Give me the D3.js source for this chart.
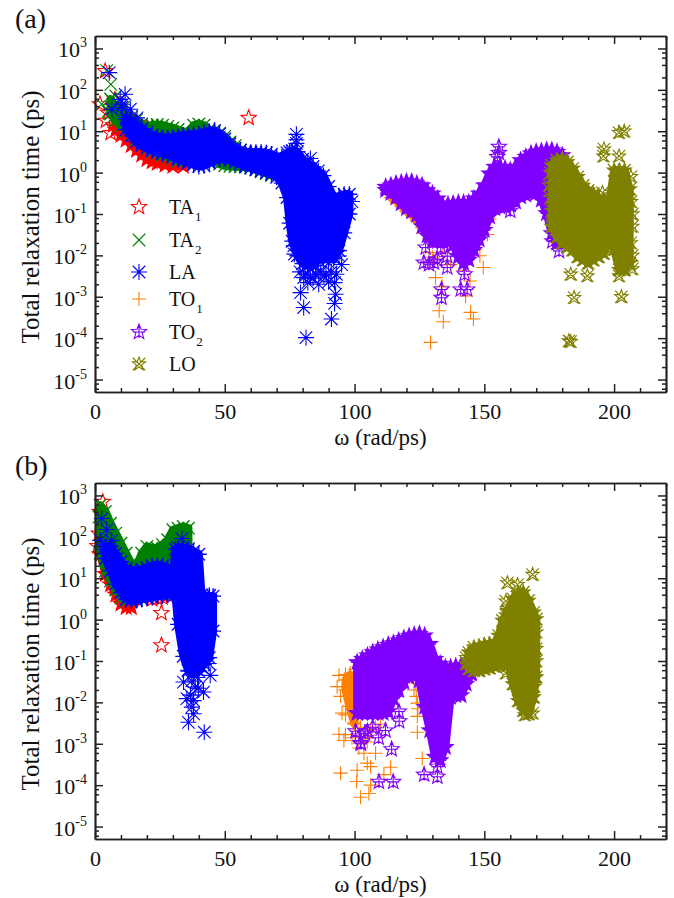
<!DOCTYPE html>
<html>
<head>
<meta charset="utf-8">
<script src="https://d3js.org/d3.v7.min.js"></script>
<style>
  html, body { margin: 0; padding: 0; background: #fff; }
  svg { display: block; }
  text { font-family: "Liberation Serif", serif; fill: #111; }
</style>
</head>
<body>
<div id="chart"></div>
<script>
// rows of a solid region are [omega, lowest tau, highest tau], null marks a gap
// *Pts are the single points that stick out of the region

// panel (a)
const aTa1Band = [[8,10.8,30],[10,8.1,25],[12,6.2,22],[14,4.6,20],[16,3.5,16],[18,2.7,13],[20,2.1,12],[22,1.85,12],[24,1.7,12],[27,1.55,10],[30,1.45,8],[34,1.45,5]]
const aTa1Pts = [[3.9,284],[1.9,45],[4.2,18],[5,28],[7.7,59],[9,30],[7,14],[10,18],[6,9],[8.5,13],[11,11],[59.2,21]]
const aTa2Band = [[6,26,60],[8,18,40],[10,13,30],[12,10.5,26],[14,8,22],[16,6.2,19],[18,4.6,15],[20,3.7,13],[22,3.2,14],[24,2.9,14.5],[26,2.6,14],[28,2.4,13],[30,2.2,12],[32,1.9,11],[34,1.8,10],[36,1.8,9],[38,1.8,14],[40,1.8,15],[42,1.8,14],[44,1.8,11],[46,1.85,10],[48,1.6,9],[50,1.46,7.5],[52,1.42,5.5],[54,1.4,4.5],[56,1.38,3.5],[58,1.35,3],[60,1.3,2.8],[62,1.16,2.6],[64,1.05,2.3],[66,0.95,2],[68,0.85,1.5]]
const aTa2Pts = [[2.6,45],[4.5,290],[6.1,135],[8,71],[5,30],[9,45],[11,38],[7,22]]
const aLaBand = [[12,11,20],[14,7.7,17],[16,5.6,14],[18,4.5,11.5],[20,3.9,9.5],[22,3.4,8],[24,3.1,7.5],[26,2.9,7],[28,2.7,7],[30,2.4,7.2],[32,2.1,7.5],[34,1.9,8],[36,1.7,8],[38,1.55,8.5],[40,1.4,8.5],[42,1.47,9.5],[44,1.7,10],[46,2,10.5],[48,2.1,8.5],[50,2.2,6.5],[52,2,5],[54,1.75,3.9],[56,1.6,3.5],[58,1.4,3.2],[60,1.3,3.1],[62,1.2,3.1],[64,1.1,3.1],[66,1,3],[68,0.92,2.8],[70,0.77,2.4],[72,0.56,2.4],[74,0.25,3],[75,0.06,3.2],[76,0.022,3.4],[78,0.0098,3.2],[80,0.0063,2.1],[82,0.0056,1.7],[84,0.0056,1.4],[86,0.0077,1.1],[88,0.0084,0.85],[90,0.0084,0.46],[92,0.0084,0.25],[94,0.013,0.27],[96,0.035,0.3],[98,0.1,0.3]]
const aLaPts = [[5.5,260],[11.6,78],[9.7,59],[10.3,38],[6.5,34],[13.6,34],[16.2,21],[12,23],[10.7,45],[77.6,8.4],[77.6,6.2],[77.6,5.1],[83,2.2],[79.2,0.00126],[80.4,0.00055],[81.3,0.000103],[86.2,0.002],[92.3,0.0022],[92.7,0.00115],[92.3,0.00069],[91.1,0.00029],[76.6,0.017],[76.8,0.0107],[94,0.0097],[90,0.0067],[85,0.0056],[80.4,0.0029],[88.2,0.0032],[79,0.004],[81,0.0035],[83,0.003],[85,0.0035],[87,0.004],[89,0.0035],[91,0.004],[93,0.0035],[95,0.006],[82,0.0022],[84,0.0028],[90,0.0023],[99,0.2]]
const aTo1Band = [[114,0.25,0.3],[116,0.21,0.3],[118,0.157,0.3],[120,0.118,0.3],[122,0.095,0.3],[124,0.068,0.3],[126,0.047,0.3],[137,null,null],[148,0.03,0.2],[150,0.047,0.2],[152,0.075,0.2]]
const aTo1Pts = [[129.3,0.000079],[132.6,0.00046],[134.2,0.00025],[144.7,0.00042],[145.8,0.00029],[149.6,0.0051],[148.3,0.0098],[142.8,0.00105],[144.5,0.0024],[131.2,0.0029],[128.7,0.0117],[133.8,0.0018],[142,0.0043],[134,0.0117],[151.2,0.032],[126.5,0.035],[130,0.009],[137,0.006],[146.5,0.014]]
const aTo2Band = [[112,0.38,0.45],[114,0.32,0.49],[116,0.25,0.54],[118,0.18,0.57],[120,0.137,0.6],[122,0.114,0.6],[124,0.095,0.54],[126,0.05,0.49],[128,0.03,0.37],[130,0.022,0.31],[132,0.022,0.235],[134,0.022,0.163],[136,0.022,0.169],[138,0.018,0.178],[140,0.0093,0.185],[142,0.0065,0.185],[144,0.0078,0.188],[146,0.0135,0.235],[148,0.024,0.31],[150,0.041,0.49],[152,0.087,0.95],[154,0.137,1.37],[156,0.15,1.37],[158,0.15,1.25],[160,0.166,1.14],[162,0.2,1.37],[164,0.263,1.99],[166,0.29,2.39],[168,0.32,2.88],[170,0.32,3.16],[172,0.22,3.27],[174,0.104,3.46],[176,0.034,3.46],[178,0.02,3.16],[180,0.02,2.62]]
const aTo2Pts = [[155.6,4.2],[155.6,3],[155,2.4],[128.7,0.0061],[135.7,0.0051],[131.9,0.0081],[133.5,0.0015],[133.5,0.00095],[140.9,0.0015],[143.4,0.0015],[142.4,0.0035],[176.2,0.022],[178.8,0.0128],[160,0.12],[127.4,0.0155],[133.2,0.0155],[135.7,0.0096],[130.6,0.0067],[126.7,0.0067]]
const aLoBand = [[176,0.05,1.5],[178,0.028,1.99],[180,0.02,2.18],[182,0.016,1.81],[184,0.0135,1.25],[186,0.0093,0.79],[188,0.0078,0.49],[190,0.0065,0.37],[192,0.0078,0.31],[194,0.0093,0.235],[196,0.0112,0.215],[198,0.024,0.163],[200,0.014,1.14],[202,0.0045,1.14],[204,0.0045,1.14],[206,0.0065,0.4]]
const aLoPts = [[201.9,9.3],[203.9,10],[195.9,2.5],[196.1,3.7],[201.9,2.5],[183.3,0.0035],[189.7,0.0032],[184.6,0.00095],[202.8,0.001],[182.6,0.000086],[183.2,0.000082],[195.5,0.33],[201.9,0.0032],[207,0.0047],[206.4,0.02],[207,0.05],[207,0.1],[207,0.01],[175.5,1],[175,0.5],[175.5,0.25],[176,0.12],[176.5,0.07],[206.5,0.8],[206.5,0.2]]

// panel (b)
const bTa1Band = [[2,38,400],[4,12.6,150],[6,7,60],[8,4,25],[10,2.4,12],[12,2,8],[14,2,5]]
const bTa1Pts = [[25.6,1.45],[25.6,0.24],[22,3.1],[24,3.3],[26,3.4],[28,3.9],[30,4.1],[1.5,120],[3,300],[1,60],[3,700]]
const bTa2Band = [[2,40,590],[4,15,410],[6,8.6,214],[8,5.2,123],[10,3.3,70],[12,2.8,40],[14,2.8,23],[16,3.1,19],[18,3.4,40],[20,3.5,59],[22,4,54],[24,4.5,54],[26,4.9,65],[28,4.5,85],[30,4,148],[32,4.5,162],[34,4.5,178],[36,4.5,162]]
const bTa2Pts = [[1.5,300],[3.5,90],[5.5,45]]
const bLaBand = [[4,30,60],[6,15,59],[8,7.2,40],[10,4.5,25],[12,3.1,17],[14,2.8,16],[16,2.9,14.5],[18,3.1,16.5],[20,3.3,18],[22,3.4,20],[24,3.7,21],[26,3.7,20],[28,3.95,18],[30,4.5,12],[31,4,50],[32,0.77,55],[34,0.13,55],[36,0.057,52],[38,0.048,45],[40,0.057,38],[41,0.07,4],[42,0.083,3.7],[44,0.12,3.7],[45.5,0.53,3.7]]
const bLaPts = [[36,0.0033],[42.1,0.0019],[38,0.0053],[37.3,0.0077],[35.4,0.0123],[41.8,0.0178],[38.6,0.0235],[34.1,0.031],[44.4,0.045],[37.3,0.033],[44.1,3.9],[33.5,91],[35.8,0.06],[39.5,0.04],[43.8,0.087],[2.6,277],[6.4,82],[4.5,150],[2,82],[5.5,40],[3,50],[36.8,0.015],[38,0.011],[39.8,0.022]]
const bTo1Band = [[96.5,0.02,0.035],[98,0.008,0.045],[100,0.003,0.045]]
const bTo1Pts = [[96.5,0.047],[95.9,0.024],[97.8,0.035],[98.5,0.051],[97.2,0.014],[97.8,0.008],[96.5,0.005],[99.1,0.014],[99.7,0.0032],[96.5,0.00166],[99,0.0014],[101.7,0.00079],[108.1,0.00059],[104.9,0.00034],[106.2,0.00028],[94.6,0.000195],[101,0.00023],[100.8,0.000123],[113.9,0.00027],[111.3,0.00018],[105.5,0.000063],[102.3,0.000051],[106.2,0.0001],[103.6,0.00059],[123.6,0.029],[122.9,0.02],[124.2,0.0096],[124.2,0.0046],[124.2,0.0019],[126.1,0.00044],[106.2,0.0022],[104.2,0.00138],[123.8,0.014],[124.4,0.007],[94,0.045],[93.3,0.024],[94.6,0.014],[95.2,0.0055],[94,0.0017],[95.9,0.0012],[103.6,0.0014],[104.9,0.0011],[108.1,0.0025],[102.3,0.0025],[110,0.003]]
const bTo2Band = [[101,0.0055,0.093],[103,0.0055,0.112],[105,0.0055,0.135],[107,0.0055,0.162],[109,0.0055,0.188],[111,0.0055,0.214],[113,0.006,0.244],[115,0.0123,0.272],[117,0.0195,0.31],[119,0.031,0.354],[121,0.041,0.395],[123,0.045,0.426],[125,0.034,0.45],[127,0.0077,0.41],[129,0.0021,0.257],[131,0.00048,0.112],[133,0.0004,0.085],[135,0.00083,0.07],[137,0.0135,0.07],[139,0.0148,0.074],[141,0.0148,0.077],[143,0.028,0.07],[145,0.049,0.053]]
const bTo2Pts = [[109.4,0.00012],[114.9,0.00012],[114.3,0.00074],[117.1,0.006],[117.2,0.0035],[126.8,0.00018],[131.9,0.00016],[131.9,0.00028],[102.3,0.00104],[101.7,0.0015],[105,0.002],[102.5,0.001],[109.3,0.0014],[111.9,0.0021],[100.4,0.002],[107,0.0025],[104,0.0018]]
const bLoBand = [[144,0.065,0.162],[146,0.059,0.214],[148,0.059,0.223],[150,0.065,0.245],[152,0.068,0.257],[154,0.074,0.272],[155.5,0.079,0.41],[157,0.083,0.95],[159,0.089,1.65],[161,0.028,3.16],[163,0.011,4.2],[165,0.0064,4.6],[167,0.0053,2.9],[169,0.0135,1.5],[170,0.041,1.04]]
const bLoPts = [[168.6,12.3],[165.6,0.005],[158.9,7.7],[162.8,7],[158.3,2.8],[158.3,1.3],[158.3,0.051],[168.6,0.0055],[169.2,0.024],[143,0.12],[143,0.085],[170,0.5],[170,0.2],[170,0.1]]

const xTicks = [0, 50, 100, 150, 200]
const yDecades = [3, 2, 1, 0, -1, -2, -3, -4, -5]
const legendNames = [["TA", "1"], ["TA", "2"], ["LA", ""], ["TO", "1"], ["TO", "2"], ["LO", ""]]

const W = 674, H = 898
const margin = {left: 95, top: 36}
const plotW = 571, plotH = 356
const markR = 8

// marker shapes, all open outlines
function starPath(r) {
    let p = ""
    for (let i = 0; i < 10; i++) {
        const a = -Math.PI / 2 + i * Math.PI / 5
        const q = i % 2 ? r * 0.42 : r
        p += (i ? "L" : "M") + (q * Math.cos(a)).toFixed(2) + "," + (q * Math.sin(a)).toFixed(2)
    }
    return p + "Z"
}
function crossPath(r) {
    const k = r * 0.78
    return `M${-k},${-k}L${k},${k}M${-k},${k}L${k},${-k}`
}
function plusPath(r) {
    return `M${-r},0L${r},0M0,${-r}L0,${r}`
}
const shapes = {
    ta1: starPath(markR),
    ta2: crossPath(markR),
    la: crossPath(markR) + plusPath(markR),
    to1: plusPath(markR - 1),
    to2: starPath(markR) + plusPath(markR - 2),
    lo: crossPath(markR) + starPath(markR - 1)
}
const colors = {ta1: "#ff0000", ta2: "#008000", la: "#0000ff", to1: "#ff8000", to2: "#8000ff", lo: "#808000"}
const order = ["ta1", "ta2", "la", "to1", "to2", "lo"]

const svg = d3.select("#chart").append("svg").attr("width", W).attr("height", H)

function drawPanel(offsetY, letter, bands, points, withLegend) {
    const g = svg.append("g").attr("transform", `translate(${margin.left},${offsetY})`)
    const x = d3.scaleLinear().domain([0, 220]).range([0, plotW])
    const y = d3.scaleLog().domain([5e-6, 2000]).range([plotH, 0])

    const area = d3.area()
        .defined(d => d[1] != null)
        .x(d => x(d[0]))
        .y0(d => y(d[1]))
        .y1(d => y(d[2]))

    order.forEach(k => {
        const s = g.append("g").attr("class", k)
        // the stroke closes the notches between the marks along the edge
        s.append("path")
            .attr("d", area(bands[k]))
            .attr("fill", colors[k])
            .attr("stroke", colors[k])
            .attr("stroke-width", 8)
            .attr("stroke-linejoin", "round")
        const rows = bands[k].filter(d => d[1] != null)
        // edge marks of a solid region are filled so the outline stays solid
        s.selectAll("path.edge")
            .data(rows.flatMap(d => [[d[0], d[1]], [d[0], d[2]]]))
            .join("path")
            .attr("class", "edge")
            .attr("transform", d => `translate(${x(d[0])},${y(d[1])})`)
            .attr("d", shapes[k])
            .attr("fill", colors[k])
            .attr("stroke", colors[k])
            .attr("stroke-width", 1.3)
        s.selectAll("path.mark")
            .data(points[k])
            .join("path")
            .attr("class", "mark")
            .attr("transform", d => `translate(${x(d[0])},${y(d[1])})`)
            .attr("d", shapes[k])
            .attr("fill", "none")
            .attr("stroke", colors[k])
            .attr("stroke-width", 1.1)
    })

    // y ticks, long at the decades and short at 2,4,6,8
    const major = yDecades.map(e => Math.pow(10, e))
    const minor = d3.range(-6, 4).flatMap(e => [2, 4, 6, 8].map(m => m * Math.pow(10, e)))
        .filter(v => v > 5e-6 && v < 2000)
    const xMinor = d3.range(0, 221, 10).filter(v => !xTicks.includes(v))

    const axes = [
        [d3.axisBottom(x).tickValues(xTicks).tickSizeInner(-8).tickPadding(11), `translate(0,${plotH})`, true],
        [d3.axisBottom(x).tickValues(xMinor).tickSizeInner(-4).tickFormat(""), `translate(0,${plotH})`, false],
        [d3.axisTop(x).tickValues(xTicks).tickSizeInner(-8).tickFormat(""), "", false],
        [d3.axisTop(x).tickValues(xMinor).tickSizeInner(-4).tickFormat(""), "", false],
        [d3.axisLeft(y).tickValues(major).tickSizeInner(-8).tickPadding(8).tickFormat(""), "", false],
        [d3.axisLeft(y).tickValues(minor).tickSizeInner(-4).tickFormat(""), "", false],
        [d3.axisRight(y).tickValues(major).tickSizeInner(-8).tickFormat(""), `translate(${plotW},0)`, false],
        [d3.axisRight(y).tickValues(minor).tickSizeInner(-4).tickFormat(""), `translate(${plotW},0)`, false]
    ]
    axes.forEach(a => {
        const ax = g.append("g").attr("transform", a[1]).call(a[0].tickSizeOuter(0))
        ax.selectAll("path.domain").attr("stroke", "#222").attr("stroke-width", 1.7)
        ax.selectAll(".tick line").attr("stroke", "#222").attr("stroke-width", 1.5)
        if (a[2]) ax.selectAll("text").attr("font-size", 22).attr("font-family", "Liberation Serif").attr("fill", "#111")
    })

    // power of ten labels
    yDecades.forEach(e => {
        const t = g.append("text")
            .attr("x", -8)
            .attr("y", y(Math.pow(10, e)) + 9)
            .attr("text-anchor", "end")
        t.append("tspan").attr("font-size", 22).text("10")
        t.append("tspan").attr("font-size", 14).attr("dy", -10).text(String(e))
    })

    g.append("text")
        .attr("transform", `translate(-56,181) rotate(-90)`)
        .attr("text-anchor", "middle")
        .attr("font-size", 25)
        .text("Total relaxation time (ps)")
    g.append("text")
        .attr("x", plotW / 2)
        .attr("y", 408.5)
        .attr("text-anchor", "middle")
        .attr("font-size", 23)
        .text("ω (rad/ps)")
    g.append("text")
        .attr("x", -80)
        .attr("y", -8)
        .attr("font-size", 28)
        .text(letter)

    if (withLegend) {
        const rowY = [207, 240, 272, 299, 332, 364]
        order.forEach((k, i) => {
            const ly = rowY[i] - offsetY
            g.append("path")
                .attr("transform", `translate(44,${ly})`)
                .attr("d", shapes[k])
                .attr("fill", "none")
                .attr("stroke", colors[k])
                .attr("stroke-width", 1.1)
            const t = g.append("text").attr("x", 74).attr("y", ly + 7).attr("font-size", 20)
            t.append("tspan").text(legendNames[i][0])
            if (legendNames[i][1]) t.append("tspan").attr("font-size", 13).attr("dy", 7).attr("dx", 1).text(legendNames[i][1])
        })
    }
}

drawPanel(36, "(a)",
    {ta1: aTa1Band, ta2: aTa2Band, la: aLaBand, to1: aTo1Band, to2: aTo2Band, lo: aLoBand},
    {ta1: aTa1Pts, ta2: aTa2Pts, la: aLaPts, to1: aTo1Pts, to2: aTo2Pts, lo: aLoPts}, true)
drawPanel(483, "(b)",
    {ta1: bTa1Band, ta2: bTa2Band, la: bLaBand, to1: bTo1Band, to2: bTo2Band, lo: bLoBand},
    {ta1: bTa1Pts, ta2: bTa2Pts, la: bLaPts, to1: bTo1Pts, to2: bTo2Pts, lo: bLoPts}, false)
</script>
</body>
</html>
